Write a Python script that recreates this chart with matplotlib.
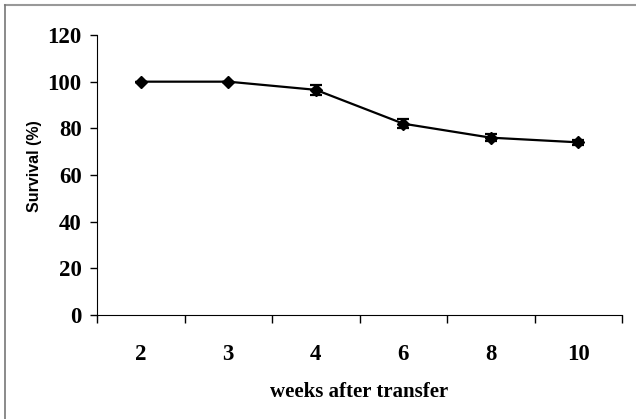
import numpy as np
import matplotlib.pyplot as plt
from matplotlib.lines import Line2D

# data
weeks = ['2', '3', '4', '6', '8', '10']
survival = [100, 100, 96.5, 82, 76, 74]
errors = [0, 0, 2.2, 2.0, 1.5, 1.2]

fig = plt.figure(figsize=(6.36, 4.19), dpi=100)
ax = fig.add_axes([97/636, 104/419, 525/636, 280/419])

x = np.arange(len(weeks))
ax.errorbar(x, survival, yerr=errors, color='black', lw=1.6,
            marker='D', markersize=6, capsize=4, capthick=1.6, elinewidth=1.6,
            clip_on=False)

# category axis (labels + boundary ticks)
ax.set_xlim(-0.5, len(weeks) - 0.5)
ax.set_xticks(x)
ax.set_xticklabels(weeks)
ax.set_xticks(np.arange(len(weeks) + 1) - 0.5, minor=True)
ax.tick_params(axis='x', which='major', length=0, pad=21)
ax.tick_params(axis='x', which='minor', length=6, width=1, direction='out')
ax.set_ylim(0, 120)
ax.set_yticks(range(0, 121, 20))
ax.tick_params(axis='y', length=5, width=1, direction='out', pad=6)
for lab in ax.get_xticklabels() + ax.get_yticklabels():
    lab.set_fontfamily('Liberation Serif')
    lab.set_fontweight('bold')
    lab.set_fontsize(16.5)
ax.spines['top'].set_visible(False)
ax.spines['right'].set_visible(False)
ax.set_xlabel('weeks after transfer', family='Liberation Serif', fontweight='bold',
              fontsize=15, labelpad=12)
ax.set_ylabel('Survival (%)', family='Liberation Sans', fontweight='bold',
              fontsize=11.5, labelpad=8)
ax.yaxis.set_label_coords(-0.105, 0.53)

# partial frame around the chart
fig.add_artist(Line2D([5/636, 1], [1 - 5/419, 1 - 5/419], color='#999999', lw=1.5))
fig.add_artist(Line2D([5/636, 5/636], [1 - 5/419, 0], color='#777777', lw=1.2))

fig.savefig('out.png', dpi=100)
